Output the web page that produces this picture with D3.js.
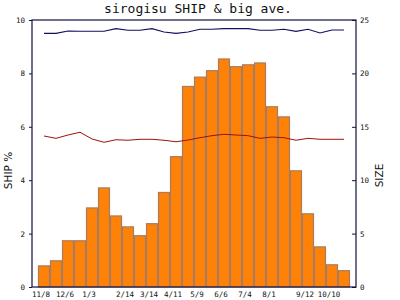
<!DOCTYPE html>
<html>
<head>
<meta charset="utf-8">
<script src="https://cdn.jsdelivr.net/npm/d3@7"></script>
<style>
  body { margin: 0; background: #fff; }
  text { fill: #111; }
  .tick text { font-family: "DejaVu Sans Mono", monospace; font-size: 7.5px; }
  .axis-label { font-family: "DejaVu Sans", sans-serif; font-size: 10.5px; }
  #title { font-family: "DejaVu Sans Mono", monospace; font-size: 13px; }
</style>
</head>
<body>
<div id="main"></div>
<script>
// data (two-week periods)
const periods = ["11/8","11/22","12/6","12/20","1/3","1/17","1/31","2/14","2/28","3/14","3/28","4/11","4/25",
                 "5/9","5/23","6/6","6/20","7/4","7/18","8/1","8/15","8/29","9/12","9/26","10/10","10/24"];
const tickLabels = ["11/8","12/6","1/3","2/14","3/14","4/11","5/9","6/6","7/4","8/1","9/12","10/10"];
const shipPct = [0.81,1.0,1.75,1.75,2.98,3.73,2.68,2.27,1.94,2.39,3.56,4.9,7.53,
                 7.88,8.12,8.56,8.27,8.34,8.41,6.77,6.39,4.37,2.76,1.52,0.85,0.63];
const bigAve = [23.75,23.75,23.97,23.94,23.94,23.94,24.19,24.04,24.04,24.19,23.88,23.75,23.88,
                24.13,24.13,24.19,24.19,24.19,24.04,24.04,24.13,23.94,24.13,23.78,24.06,24.06];
const sizeAve = [14.14,13.92,14.23,14.49,13.86,13.55,13.79,13.74,13.83,13.83,13.74,13.6,13.76,
                 13.98,14.17,14.3,14.23,14.17,13.92,14.04,13.98,13.74,13.92,13.83,13.83,13.83];

// dimensions
const svg_width = 400,
    svg_height = 300;
const margin = {top: 20, right: 44, bottom: 13, left: 32};
const graph_width = svg_width - margin.left - margin.right,
    graph_height = svg_height - margin.top - margin.bottom;

var svg = d3.select("#main").append("svg")
    .attr("width", svg_width)
    .attr("height", svg_height)
    .append("g").attr("id", "graph")
    .attr("transform", `translate(${margin.left}, ${margin.top})`);

svg.append("text")
    .attr("id", "title")
    .attr("x", graph_width / 2 + 4)
    .attr("y", -7)
    .attr("text-anchor", "middle")
    .text("sirogisu SHIP & big ave.");

/** scales **/
var xScale = d3.scaleBand()
    .domain(periods)
    .range([0, graph_width])
    .paddingInner(0)
    .paddingOuter(0.5);
var yLeft = d3.scaleLinear().domain([0, 10]).range([graph_height, 0]);
var yRight = d3.scaleLinear().domain([0, 25]).range([graph_height, 0]);

/** bars **/
svg.selectAll(".bar")
    .data(shipPct)
    .enter()
    .append("rect")
    .attr("class", "bar")
    .attr("x", (d, i) => xScale(periods[i]) + 0.5)
    .attr("y", d => yLeft(d) + 0.5)
    .attr("width", xScale.bandwidth() - 1)
    .attr("height", d => graph_height - yLeft(d) - 0.5)
    .attr("fill", "#ff8208")
    .attr("stroke", "#a87c5c")
    .attr("stroke-width", 1.2);

/** lines **/
var line = d3.line()
    .x((d, i) => xScale(periods[i]) + xScale.bandwidth() / 2)
    .y(d => yRight(d));
svg.append("path")
    .datum(bigAve)
    .attr("fill", "none")
    .attr("stroke", "#101060")
    .attr("stroke-width", 1.1)
    .attr("d", line);
svg.append("path")
    .datum(sizeAve)
    .attr("fill", "none")
    .attr("stroke", "#a01010")
    .attr("stroke-width", 1)
    .attr("d", line);

/** axes **/
var leftAxis = svg.append("g")
    .call(d3.axisLeft(yLeft).tickValues([0, 2, 4, 6, 8, 10]).tickSize(3).tickPadding(4));
var rightAxis = svg.append("g")
    .attr("transform", `translate(${graph_width},0)`)
    .call(d3.axisRight(yRight).tickValues([0, 5, 10, 15, 20, 25]).tickSizeInner(-4).tickSizeOuter(0).tickPadding(4));
[leftAxis, rightAxis].forEach(a => {
    a.select(".domain").remove();
    a.selectAll("line").attr("stroke", "#101040");
});

// frame
svg.append("rect")
    .attr("width", graph_width)
    .attr("height", graph_height)
    .attr("fill", "none")
    .attr("stroke", "#101040")
    .attr("stroke-width", 1.2);

// x labels, at the first period of each month
svg.selectAll(".xlab")
    .data(tickLabels)
    .enter()
    .append("text")
    .attr("class", "tick")
    .attr("x", d => xScale(d) + xScale.bandwidth() / 2 - 3)
    .attr("y", graph_height + 10)
    .attr("text-anchor", "middle")
    .style("font-family", "DejaVu Sans Mono, monospace")
    .style("font-size", "7.5px")
    .text(d => d);

// axis labels
svg.append("text")
    .attr("class", "axis-label")
    .attr("transform", `translate(-20, ${graph_height / 2 + 17}) rotate(-90)`)
    .attr("text-anchor", "middle")
    .text("SHIP %");
svg.append("text")
    .attr("class", "axis-label")
    .attr("transform", `translate(${graph_width + 27}, ${graph_height / 2 + 22}) rotate(-90)`)
    .attr("text-anchor", "middle")
    .text("SIZE");
</script>
</body>
</html>
